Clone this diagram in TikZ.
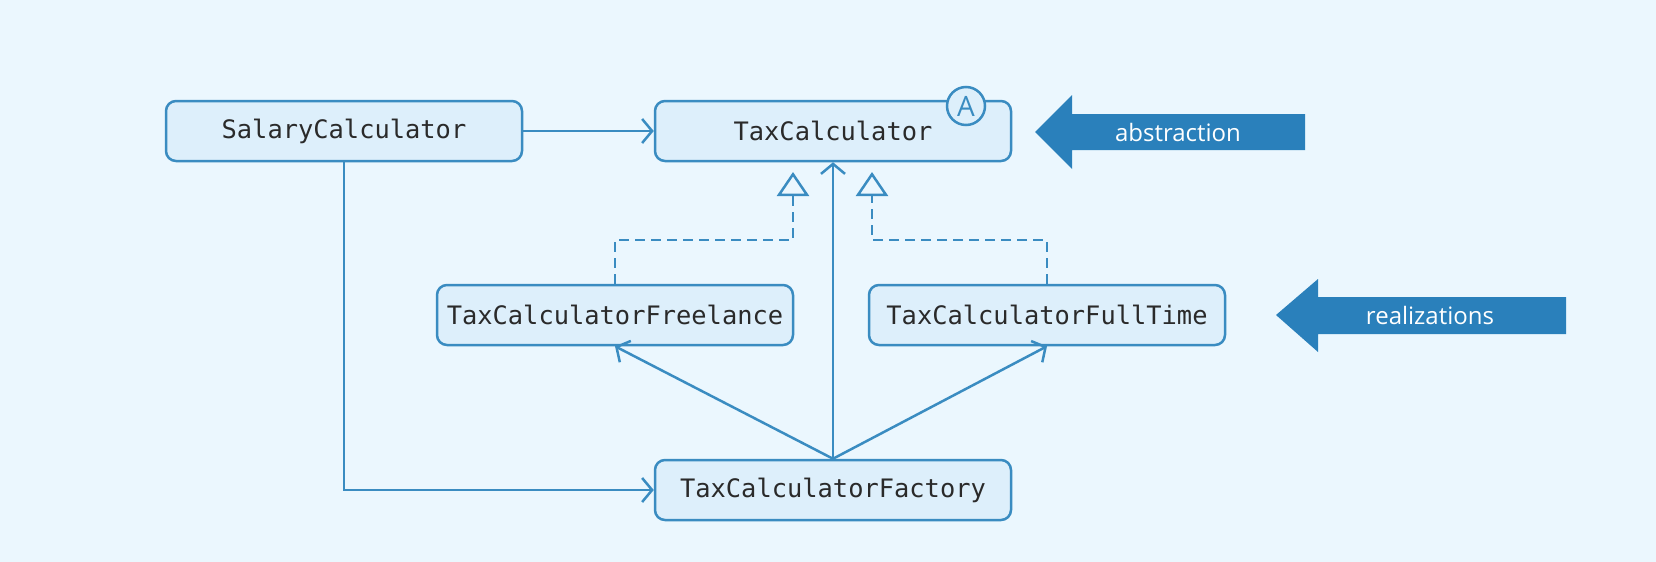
\documentclass[tikz,border=0pt]{standalone}
\usepackage{fontspec}
\setmainfont{Open Sans}
\newfontfamily\codefont{DejaVu Sans Mono}
\usetikzlibrary{arrows.meta}
\definecolor{bgblue}{HTML}{EBF7FE}
\definecolor{boxfill}{HTML}{DDEFFB}
\definecolor{lineblue}{HTML}{3A8CC1}
\definecolor{bigarrow}{HTML}{2A80BB}
\definecolor{codegray}{HTML}{2A2A2A}
\tikzset{
  classbox/.style={draw=lineblue, fill=boxfill, line width=1.25pt, rounded corners=5pt,
    minimum width=178pt, minimum height=30pt, text=codegray,
    font=\codefont\fontsize{12.7}{15}\selectfont},
  uses/.style={draw=lineblue, line width=1.25pt, -{Straight Barb[length=5pt,width=12pt]}},
  realizes/.style={draw=lineblue, line width=1.25pt, dash pattern=on 5pt off 3pt,
    -{Triangle[open,length=12pt,width=16pt,fill=bgblue]}},
  noteword/.style={text=white, font=\fontsize{12}{14}\selectfont}
}
\begin{document}
\begin{tikzpicture}[x=0.5pt, y=-0.5pt]
  \fill[bgblue] (0,0) rectangle (1656,562);
  % classes
  \node[classbox] (salary) at (344,131) {SalaryCalculator};
  \node[classbox] (tax) at (833,131) {TaxCalculator};
  \node[classbox] (freelance) at (615,315) {TaxCalculatorFreelance};
  \node[classbox] (fulltime) at (1047,315) {TaxCalculatorFullTime};
  \node[classbox] (factory) at (833,490) {TaxCalculatorFactory};
  \node[draw=lineblue, fill=boxfill, line width=1.25pt, circle, minimum size=19pt, inner sep=0pt,
    text=lineblue, font=\fontsize{14}{16}\selectfont] (abstract) at (966,106) {A};
  % realization links
  \coordinate (leftapex) at (793,172);
  \coordinate (rightapex) at (872,172);
  \draw[realizes] (freelance.north) -- ++(0,-44) -| (leftapex);
  \draw[realizes] (fulltime.north) -- ++(0,-44) -| (rightapex);
  % dependencies
  \draw[uses] (salary) -- (tax);
  \draw[uses] (salary.south) |- (factory.west);
  \draw[uses] (factory.north) -- (tax.south);
  \draw[uses] (factory.north) -- (freelance.south);
  \draw[uses] (factory.north) -- (fulltime.south);
  % big arrows
  \fill[bigarrow] (1035,132) -- (1072,95) -- (1072,114) -- (1305,114) -- (1305,150)
    -- (1072,150) -- (1072,169) -- cycle;
  \fill[bigarrow] (1276,315) -- (1318,279) -- (1318,297) -- (1566,297) -- (1566,334)
    -- (1318,334) -- (1318,352) -- cycle;
  \node[noteword] (abstraction) at (1178,132) {abstraction};
  \node[noteword] (realizations) at (1430,315) {realizations};
\end{tikzpicture}
\end{document}
